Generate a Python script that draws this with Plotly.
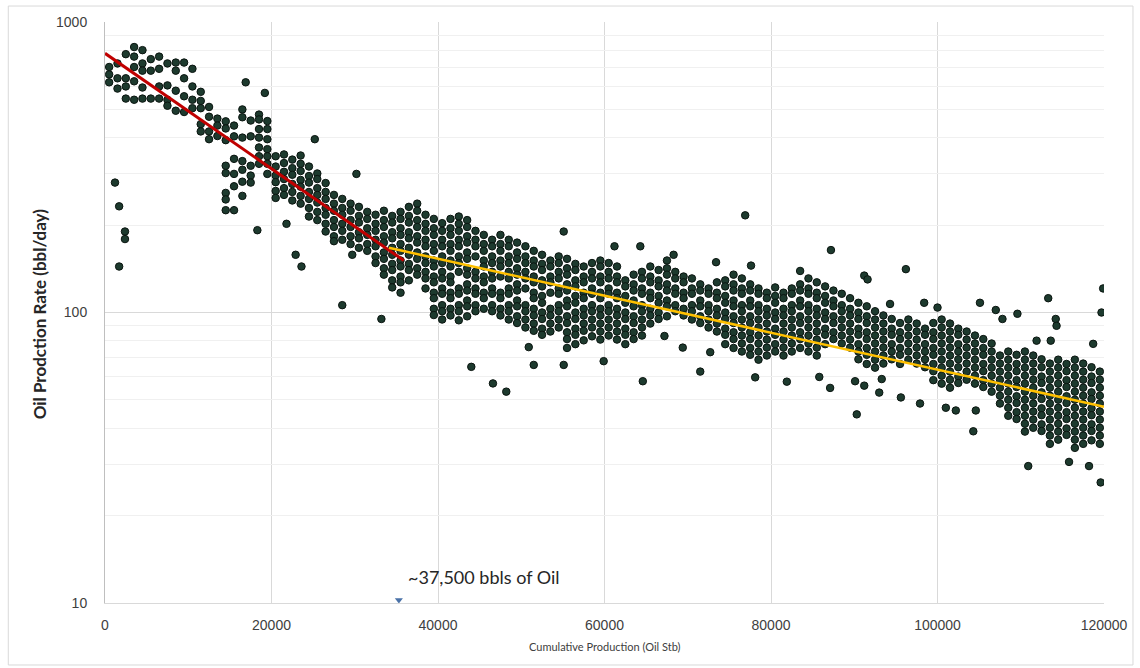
import plotly.graph_objects as go

# ---- Daily oil rate vs. cumulative production (columns of daily points) ----
cum_a = [500, 1500, 2500, 3500, 4500, 5500, 6500, 7500, 8500, 9500,
         10500, 11500, 12500, 13500, 14500, 15500, 16500, 17500, 18500, 19500]
rate_a = [
    [700, 660, 620],
    [720, 640, 590],
    [775, 640, 600, 545],
    [820, 760, 700, 625, 540],
    [800, 720, 680, 595, 545],
    [745, 680, 545],
    [760, 690, 600, 545],
    [720, 605, 540, 515],
    [725, 680, 580, 495],
    [725, 640, 555, 490],
    [690, 600, 540, 505],
    [575, 535, 505, 445, 420],
    [510, 472, 420, 395],
    [465, 440, 405],
    [455, 430, 392, 320, 302, 258, 245, 225],
    [440, 404, 338, 300, 272, 225],
    [500, 470, 400, 332, 310, 282, 252],
    [458, 404, 320, 296, 280],
    [480, 462, 428, 400, 370, 345, 325],
    [456, 428, 395, 365, 345, 325, 300],
]

cum_b = [20500, 21500, 22500, 23500, 24500, 25500, 26500, 27500, 28500, 29500,
         30500, 31500, 32500, 33500, 34500, 35500, 36500, 37500, 38500, 39500]
rate_b = [
    [345, 318, 296, 281, 262, 248],
    [350, 327, 305, 288, 268, 254],
    [336, 314, 298, 277, 260, 243],
    [347, 325, 307, 286, 271, 252, 237],
    [318, 295, 280, 260, 246, 229, 214],
    [301, 288, 268, 254, 239, 222, 208],
    [279, 260, 246, 229, 217, 202, 190],
    [254, 237, 224, 208, 197, 183, 176],
    [246, 229, 217, 202, 191, 178],
    [237, 224, 208, 197, 183, 172],
    [231, 215, 204, 189, 180, 167],
    [222, 210, 195, 185, 172, 163],
    [217, 202, 191, 178, 169, 156, 148],
    [224, 208, 197, 183, 174, 161, 153, 142, 135],
    [215, 204, 189, 180, 167, 158, 147, 140, 129, 122],
    [222, 210, 195, 185, 172, 163, 151, 144, 133, 127, 117],
    [231, 215, 204, 189, 180, 167, 158, 147, 140, 129],
    [237, 224, 208, 197, 183, 174, 161, 153, 142, 135],
    [217, 202, 191, 178, 169, 156, 148, 138, 131, 121],
    [210, 195, 185, 172, 163, 151, 144, 133, 127, 117, 112, 103, 98],
]

cum_c = [40500, 41500, 42500, 43500, 44500, 45500, 46500, 47500, 48500, 49500,
         50500, 51500, 52500, 53500, 54500, 55500, 56500, 57500, 58500, 59500]
rate_c = [
    [203, 191, 178, 169, 156, 148, 138, 131, 121, 116, 106, 101, 94.6],
    [210, 195, 185, 172, 163, 151, 144, 133, 127, 117, 112, 103, 97.7],
    [214, 202, 191, 178, 169, 156, 148, 138, 121, 116, 106, 101, 94],
    [208, 197, 183, 174, 161, 153, 142, 135, 125, 119, 110, 105, 97],
    [191, 178, 169, 156, 138, 131, 121, 116, 106, 101],
    [185, 172, 163, 151, 144, 133, 127, 117, 112, 103],
    [178, 169, 156, 148, 138, 131, 121, 116, 106, 101],
    [185, 172, 163, 151, 144, 133, 117, 112, 103, 97.7],
    [178, 169, 156, 148, 138, 131, 121, 116, 106, 101, 94.6],
    [174, 161, 153, 142, 135, 125, 119, 110, 105, 97, 92],
    [169, 156, 148, 138, 131, 121, 106, 101, 94.6, 88.8],
    [163, 151, 144, 133, 127, 117, 112, 103, 97.7, 91.6, 86.5],
    [158, 147, 140, 129, 123, 114, 108, 100, 95, 88, 83.8],
    [151, 144, 133, 127, 117, 103, 97.7, 91.6, 86],
    [156, 148, 138, 131, 121, 116, 106, 101, 94.6, 88.8],
    [153, 142, 135, 125, 119, 110, 105, 97, 92, 85.5, 81, 75.5],
    [147, 140, 129, 123, 114, 108, 100, 95, 88, 83.8, 77.8],
    [144, 133, 127, 117, 112, 103, 97.7, 91.6, 86.5, 80.2],
    [148, 138, 131, 121, 116, 106, 101, 94.6, 88.8, 82.8],
    [151, 144, 133, 127, 117, 112, 103, 97.7, 91.6, 86, 80.7],
]

cum_d = [60500, 61500, 62500, 63500, 64500, 65500, 66500, 67500, 68500, 69500,
         70500, 71500, 72500, 73500, 74500, 75500, 76500, 77500, 78500, 79500]
rate_d = [
    [148, 138, 131, 121, 116, 106, 101, 94.6, 88.8, 83.3],
    [144, 133, 127, 117, 112, 103, 97.7, 91.6, 86, 80.7],
    [129, 123, 114, 108, 100, 95, 88, 83.8, 77.8],
    [135, 125, 119, 110, 105, 97, 92, 85.5, 81],
    [138, 131, 121, 116, 106, 101, 94.6, 88.8, 83.3],
    [144, 133, 127, 117, 112, 103, 97.7, 91.6],
    [140, 129, 123, 114, 108, 100, 95],
    [151, 142, 135, 125, 119, 110, 105, 97],
    [138, 131, 121, 116, 106, 101],
    [133, 127, 117, 112, 103, 97.7],
    [131, 121, 116, 106, 101, 94.6],
    [125, 119, 110, 105, 97, 92],
    [121, 116, 106, 101, 94.6, 88.8],
    [127, 117, 112, 103, 97.7, 91.6, 86],
    [129, 123, 114, 108, 100, 95, 88, 83.8, 77.8],
    [135, 125, 119, 110, 105, 97, 92, 85.5, 81, 75.5],
    [131, 121, 116, 106, 101, 94.6, 88.8, 83.3, 78.2, 73.4],
    [125, 119, 110, 105, 97, 92, 85.5, 81, 75.5, 71.5],
    [121, 116, 106, 101, 94.6, 88.8, 83.3, 78.2, 73.4, 68.8],
    [117, 112, 103, 97.7, 91.6, 86, 80.7, 75.7, 71.1],
]

cum_e = [80500, 81500, 82500, 83500, 84500, 85500, 86500, 87500, 88500, 89500,
         90500, 91500, 92500, 93500, 94500, 95500, 96500, 97500, 98500, 99500]
rate_e = [
    [122, 114, 108, 100, 95, 88, 83.8, 77.8, 73.4],
    [117, 112, 103, 97.7, 91.6, 86, 80.7, 75.7, 71.1],
    [121, 116, 106, 101, 94.6, 88.8, 83.3, 78.2, 73.4],
    [125, 119, 110, 105, 97, 92, 85.5, 81, 75.5],
    [131, 121, 116, 106, 101, 94.6, 88.8, 83.3, 78.2, 73.4],
    [127, 117, 112, 103, 97.7, 91.6, 86, 80.7, 75.7, 71.1],
    [123, 114, 108, 100, 95, 88, 83.8, 77.8],
    [119, 110, 105, 97, 92, 85.5, 81],
    [116, 106, 101, 94.6, 88.8, 83.3, 78.2],
    [112, 103, 97.7, 91.6, 86, 80.7, 75.7],
    [108, 100, 95, 88, 83.8, 77.8, 73.4, 69],
    [105, 97, 92, 85.5, 81, 75.5, 71.5, 66.5],
    [101, 94.6, 88.8, 83.3, 78.2, 73.4, 68.8, 64.6],
    [97.7, 91.6, 86, 80.7, 75.7, 71.1, 66.7],
    [95, 88, 83.8, 77.8, 73.4, 69],
    [92, 85.5, 81, 75.5, 71.5, 66.5],
    [94.6, 88.8, 83.3, 78.2, 73.4, 68.8],
    [91.6, 86, 80.7, 75.7, 71.1, 66.7],
    [88, 83.8, 77.8, 73.4, 69, 64.8],
    [92, 85.5, 81, 75.5, 71.5, 66.5, 62.8, 58.5],
]

cum_f = [100500, 101500, 102500, 103500, 104500, 105500, 106500, 107500, 108500, 109500,
         110500, 111500, 112500, 113500, 114500, 115500, 116500, 117500, 118500, 119500]
rate_f = [
    [94.6, 88.8, 83.3, 78.2, 73.4, 68.8, 64.6, 60.6, 56.9],
    [91.6, 86, 80.7, 75.7, 71.1, 66.7, 62.6, 58.7, 55.1],
    [88, 83.8, 77.8, 73.4, 69, 64.8, 60.2, 57.2],
    [86, 80.7, 75.7, 71.1, 66.7, 62.6, 58.7],
    [83.3, 78.2, 73.4, 68.8, 64.6, 60.6, 56.9],
    [81, 75.5, 71.5, 66.5, 62.8, 58.5, 55.4],
    [78.2, 73.4, 68.8, 64.6, 60.6, 56.9, 53.4],
    [71.1, 66.7, 62.6, 58.7, 55.1, 51.7, 48.6],
    [73.4, 68.8, 64.6, 60.6, 56.9, 53.4, 50.1, 47, 44.1],
    [71.5, 66.5, 62.8, 58.5, 55.4, 51.5, 48.8, 45.4, 43],
    [73.4, 68.8, 64.6, 60.6, 56.9, 53.4, 50.1, 47, 44.1, 41.4, 38.9],
    [71.1, 66.7, 62.6, 58.7, 55.1, 51.7, 48.6, 45.6, 42.8, 40.1],
    [69, 64.8, 60.2, 57.2, 53.1, 50.4, 46.8, 44.3, 41.2, 39.1],
    [66.7, 62.6, 58.7, 55.1, 51.7, 48.6, 45.6, 42.8, 40.1, 37.7, 35.3],
    [68.8, 64.6, 60.6, 56.9, 53.4, 50.1, 47, 44.1, 41.4, 38.9, 36.5],
    [66.5, 62.8, 58.5, 55.4, 51.5, 48.8, 45.4, 43, 39.9, 37.9],
    [68.8, 64.6, 60.6, 56.9, 53.4, 50.1, 47, 44.1, 41.4, 38.9, 36.5, 34.2],
    [66.7, 62.6, 58.7, 55.1, 51.7, 48.6, 45.6, 42.8, 40.1, 37.7, 35.3],
    [64.8, 60.2, 57.2, 53.1, 50.4, 46.8, 44.3, 41.2, 39.1, 36.3],
    [62.6, 58.7, 55.1, 51.7, 48.6, 45.6, 42.8, 40.1, 37.7, 35.3],
]

# Scattered days away from the main trend
outlier_cum = [1200, 1700, 2400, 2400, 1700, 16900, 19200, 18300, 25200, 30200,
               21800, 22900, 23600, 28500, 33200, 29700, 55100, 44000, 46600, 48200,
               51500, 55100, 50900, 76900, 61200, 64300, 68300, 73400, 77600, 59900,
               64600, 71500, 78100, 69400, 72700, 67200, 87200, 83500, 91200, 91600,
               96200, 98400, 94300, 85800, 81900, 87100, 90300, 93000, 95600, 97900,
               90100, 91200, 93300, 119900, 119700, 113300, 114200, 114300, 105100, 107000,
               107800, 109600, 100000, 111900, 113600, 118700, 101000, 102200, 104600, 104300,
               110900, 115800, 118200, 119600]
outlier_rate = [280, 232, 190, 179, 144, 620, 570, 192, 395, 300,
                202, 158, 144, 106, 95, 158, 190, 65, 57, 53.4,
                66, 66, 76, 216, 169, 169, 158, 149, 145, 68,
                58, 62.6, 59.8, 75.7, 73, 83, 164, 139, 134, 130,
                141, 108, 107, 60, 57.8, 55, 44.6, 53, 51, 48.6,
                58, 56, 59, 121, 100, 112, 95, 90, 108, 102,
                95, 99, 104, 80, 80, 78, 47, 46, 46, 39,
                29.6, 30.6, 29.6, 26]

# Two straight-line (semi-log) decline fits
early_fit_cum = [0, 35900]
early_fit_rate = [780, 151]
late_fit_cum = [34100, 120000]
late_fit_rate = [167, 47.4]

# Marker for the break point
break_cum = [35300]
break_rate = [10.25]
break_label = "~37,500 bbls of Oil"

x_ticks = [0, 20000, 40000, 60000, 80000, 100000, 120000]
x_grid = [20000, 40000, 60000, 80000, 100000]
y_ticks = [10, 100, 1000]
y_minor = [20, 30, 40, 50, 60, 70, 80, 90, 200, 300, 400, 500, 600, 700, 800, 900]

cum_oil, oil_rate = [], []
for cols, rates in ((cum_a, rate_a), (cum_b, rate_b), (cum_c, rate_c),
                    (cum_d, rate_d), (cum_e, rate_e), (cum_f, rate_f)):
    for x, column in zip(cols, rates):
        for r in column:
            cum_oil.append(x)
            oil_rate.append(r)
cum_oil += outlier_cum
oil_rate += outlier_rate

fig = go.Figure()
fig.add_trace(go.Scatter(
    x=cum_oil, y=oil_rate, mode="markers",
    marker=dict(size=7.5, color="#1d3a2e", line=dict(color="#0a140f", width=1)),
    hoverinfo="x+y",
))
fig.add_trace(go.Scatter(
    x=early_fit_cum, y=early_fit_rate, mode="lines",
    line=dict(color="#c00000", width=3),
))
fig.add_trace(go.Scatter(
    x=late_fit_cum, y=late_fit_rate, mode="lines",
    line=dict(color="#ffc000", width=2.5),
))
fig.add_trace(go.Scatter(
    x=break_cum, y=break_rate, mode="markers",
    marker=dict(symbol="triangle-down", size=7, color="#4a72a8"),
    cliponaxis=False,
))

tick_font = dict(family="Liberation Sans, Arial, sans-serif", size=14, color="#404040")

fig.update_layout(
    width=1140, height=668,
    margin=dict(l=105, r=33, t=22, b=65),
    paper_bgcolor="white", plot_bgcolor="white",
    showlegend=False,
    xaxis=dict(
        range=[0, 120000], tickmode="array", tickvals=x_ticks,
        ticktext=[str(v) for v in x_ticks],
        showgrid=False,
        minor=dict(tickmode="array", tickvals=x_grid, showgrid=True,
                   gridcolor="#d9d9d9", gridwidth=1, ticks=""),
        zeroline=False, showline=True, linecolor="#d9d9d9", linewidth=1,
        ticks="", tickfont=tick_font, ticklabelstandoff=9,
    ),
    yaxis=dict(
        type="log", range=[1, 3], tickmode="array", tickvals=y_ticks,
        ticktext=[str(v) for v in y_ticks],
        showgrid=True, gridcolor="#d9d9d9", gridwidth=1,
        minor=dict(tickmode="array", tickvals=y_minor, showgrid=True,
                   gridcolor="#f0f0f0", gridwidth=1, ticks=""),
        zeroline=False, showline=True, linecolor="#bfbfbf", linewidth=1,
        ticks="", tickfont=tick_font, ticklabelstandoff=14,
    ),
    annotations=[
        dict(text="<b>Oil Prodction Rate (bbl/day)</b>", xref="paper", yref="paper",
             x=-0.066, y=0.497, textangle=-90, showarrow=False,
             xanchor="center", yanchor="middle",
             font=dict(family="Lato, Open Sans, sans-serif", size=17, color="#262626")),
        dict(text="Cumulative Production (Oil Stb)", xref="paper", yref="paper",
             x=0.5, y=-0.0757, showarrow=False, xanchor="center", yanchor="middle",
             font=dict(family="Lato, Open Sans, sans-serif", size=11, color="#404040")),
        dict(text=break_label, x=36200, y=1.09, xref="x", yref="y",
             showarrow=False, xanchor="left", yanchor="middle",
             font=dict(family="Lato, Open Sans, sans-serif", size=18, color="#262626")),
    ],
    shapes=[
        dict(type="rect", xref="paper", yref="paper",
             x0=-0.0968, x1=1.029, y0=-0.1067, y1=1.0275,
             line=dict(color="#d9d9d9", width=1), fillcolor="rgba(0,0,0,0)", layer="below"),
    ],
)

fig.write_html("out.html")
